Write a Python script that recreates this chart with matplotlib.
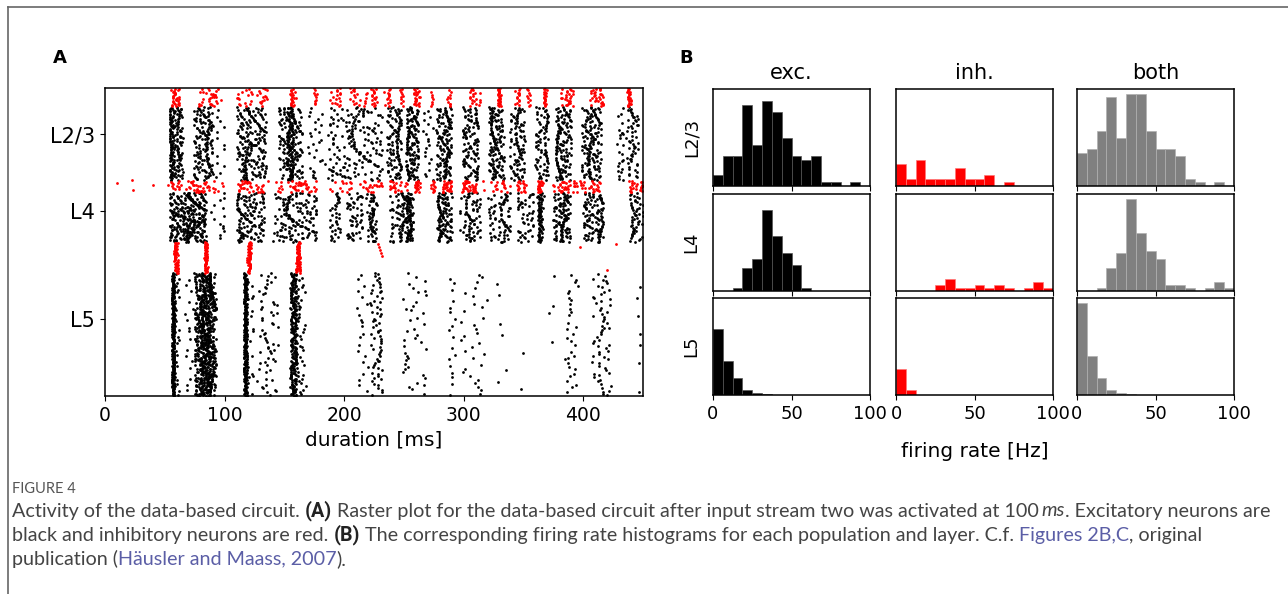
import numpy as np
import matplotlib
matplotlib.use("Agg")
import matplotlib.pyplot as plt
from matplotlib.lines import Line2D

# ---------------- raster (panel A) ----------------
# neuron index ranges, top to bottom: 560 neurons, 30/20/50 % per layer, 80/20 exc/inh
l23_inh_rng = (0, 34)
l23_exc_rng = (34, 168)
l4_inh_rng = (168, 190)
l4_exc_rng = (190, 280)
l5_inh_rng = (280, 336)
l5_exc_rng = (336, 560)
layer_ticks = [84, 224, 420]
layer_names = ["L2/3", "L4", "L5"]

# population bursts: (start ms, end ms, spikes per neuron)
l23_exc_bursts = [(54, 58, 0.7), (58, 65, 0.6), (74, 90, 1.1), (92, 100, 0.1),
                  (110, 135, 1.5), (145, 165, 1.1), (152, 157, 0.6), (170, 185, 0.2),
                  (186, 232, 1.3), (236, 248, 0.8), (252, 262, 1.0), (265, 276, 0.15),
                  (277, 290, 1.0), (299, 312, 0.8), (321, 334, 1.0), (338, 351, 0.7),
                  (360, 371, 0.6), (377, 390, 1.0), (399, 415, 1.1), (428, 446, 0.6)]
l23_inh_bursts = [(55, 63, 0.9), (78, 97, 0.9), (110, 136, 0.9), (155, 160, 0.6),
                  (174, 177, 0.3), (188, 197, 0.5), (205, 219, 0.6), (222, 228, 0.5),
                  (233, 239, 0.4), (247, 250, 0.3), (258, 264, 0.7), (272, 274, 0.2),
                  (286, 289, 0.3), (305, 314, 0.6), (328, 331, 0.8), (342, 347, 0.4),
                  (353, 356, 0.3), (367, 370, 0.6), (381, 392, 0.8), (406, 417, 0.9),
                  (437, 440, 0.7)]
l4_inh_bursts = [(54, 88, 2.0), (90, 100, 0.3), (110, 137, 1.5), (143, 178, 1.8),
                 (188, 232, 1.5), (238, 253, 1.0), (258, 264, 0.8), (272, 276, 0.5),
                 (282, 290, 1.2), (298, 312, 1.5), (315, 340, 0.8), (345, 352, 0.8),
                 (362, 366, 1.0), (375, 395, 1.5), (395, 415, 1.2), (438, 450, 1.0)]
l4_inh_early_t = [10, 22.6, 23.4, 40, 53]
l4_inh_early_n = [173, 168, 185, 176, 176]
l4_exc_bursts = [(54, 85, 3.3), (88, 100, 0.15), (110, 133, 1.4), (140, 177, 1.6),
                 (188, 197, 0.4), (202, 225, 0.9), (222, 228, 0.3), (238, 258, 1.1),
                 (252, 256, 0.6), (278, 290, 1.2), (297, 314, 0.8), (320, 339, 0.8),
                 (345, 367, 0.7), (362, 366, 0.6), (375, 389, 1.2), (400, 417, 1.2),
                 (439, 450, 0.6)]
l5_inh_bursts = [(58, 61, 1.0), (83, 86, 1.0), (119, 122, 1.0), (160, 163, 1.0)]
l5_inh_late_t = [228, 229, 230, 231, 232, 397, 420, 427]
l5_inh_late_n = [283, 289, 294, 300, 306, 290, 330, 284]
l5_exc_bursts = [(56, 58, 1.0), (58, 62, 0.15), (65, 75, 0.08), (75, 93, 2.0),
                 (80, 88, 1.0), (116, 119, 1.0), (119, 145, 0.35), (155, 160, 1.0),
                 (160, 168, 0.2), (208, 220, 0.1), (222, 232, 0.3), (249, 269, 0.18),
                 (287, 294, 0.08), (297, 320, 0.14), (325, 385, 0.06), (386, 396, 0.14),
                 (407, 423, 0.28), (445, 448, 0.03)]

# ---------------- histograms (panel B) ----------------
rate_edges = np.linspace(0, 100, 17)
l23_exc_counts = [3, 8, 8, 22, 11, 23, 20, 13, 8, 7, 8, 1, 1, 0, 1, 0]
l23_inh_counts = [6, 2, 7, 2, 2, 2, 5, 2, 2, 3, 0, 1, 0, 0, 0, 0]
l4_exc_counts = [0, 0, 1, 8, 11, 28, 19, 13, 9, 1, 0, 0, 0, 0, 0, 0]
l4_inh_counts = [0, 0, 0, 0, 2, 4, 1, 1, 2, 1, 2, 1, 0, 1, 3, 1]
l5_exc_counts = [119, 61, 30, 9, 3, 2, 0, 0, 0, 0, 0, 0, 0, 0, 0, 0]
l5_inh_counts = [47, 9, 0, 0, 0, 0, 0, 0, 0, 0, 0, 0, 0, 0, 0, 0]


def burst_spikes(rng, bursts, shift):
    # spread each burst's spikes over its neurons and time window
    ts, ns = [], []
    n0, n1 = rng
    for j, (t0, t1, per_neuron) in enumerate(bursts):
        n = int(round(per_neuron * (n1 - n0)))
        k = np.arange(1, n + 1)
        u = (shift * 0.31 + j * 0.137 + k * 0.6180339887) % 1.0
        v = (shift * 0.17 + j * 0.291 + k * k * 0.4142135624 + k * 0.7071067812) % 1.0
        ts.append(t0 + v * (t1 - t0))
        ns.append(np.floor(n0 + u * (n1 - n0)) + 0.5)
    return np.concatenate(ts), np.concatenate(ns)


fig = plt.figure(figsize=(12.88, 5.94), dpi=100)
plt.rcParams["font.family"] = ["DejaVu Sans"]

# frame lines of the figure page
fig.add_artist(Line2D([7.5 / 1288, 7.5 / 1288], [0, 1 - 7 / 594], color="#666666", lw=1.2))
fig.add_artist(Line2D([7.5 / 1288, 1], [1 - 7 / 594, 1 - 7 / 594], color="#666666", lw=1.2))

ax = fig.add_axes([105 / 1288, 1 - 396 / 594, 538 / 1288, 308 / 594])
for rng, bursts, col, sh in [(l23_exc_rng, l23_exc_bursts, "k", 1),
                             (l23_inh_rng, l23_inh_bursts, "red", 2),
                             (l4_exc_rng, l4_exc_bursts, "k", 3),
                             (l4_inh_rng, l4_inh_bursts, "red", 4),
                             (l5_exc_rng, l5_exc_bursts, "k", 5),
                             (l5_inh_rng, l5_inh_bursts, "red", 6)]:
    t, n = burst_spikes(rng, bursts, sh)
    ax.scatter(t, n, s=4, c=col, marker="o", linewidths=0)
ax.scatter(l4_inh_early_t, l4_inh_early_n, s=4, c="red", linewidths=0)
ax.scatter(l5_inh_late_t, l5_inh_late_n, s=4, c="red", linewidths=0)
ax.set_xlim(0, 450)
ax.set_ylim(560, 0)
ax.set_xticks([0, 100, 200, 300, 400])
ax.set_yticks(layer_ticks)
ax.set_yticklabels(layer_names, fontsize=15)
ax.tick_params(axis="x", labelsize=13.5)
ax.set_xlabel("duration [ms]", fontsize=14.5)
for s in ax.spines.values():
    s.set_linewidth(1.1)

fig.text(60 / 1288, 1 - 58 / 594, "A", fontsize=13, fontweight="bold", ha="center", va="center")
fig.text(686 / 1288, 1 - 58 / 594, "B", fontsize=13, fontweight="bold", ha="center", va="center")

# histogram grid
col_left = [713, 896, 1077]
row_top = [89, 194, 298]
hist_w, hist_h = 157, 97
rows = [(l23_exc_counts, l23_inh_counts), (l4_exc_counts, l4_inh_counts),
        (l5_exc_counts, l5_inh_counts)]
titles = ["exc.", "inh.", "both"]
for r, (exc, inh) in enumerate(rows):
    exc = np.array(exc)
    inh = np.array(inh)
    both = exc + inh
    for c, (vals, col, ec) in enumerate([(exc, "black", "#555555"),
                                         (inh, "red", "#ff7777"),
                                         (both, "grey", "#b0b0b0")]):
        hax = fig.add_axes([col_left[c] / 1288, 1 - (row_top[r] + hist_h) / 594,
                            hist_w / 1288, hist_h / 594])
        hax.hist(rate_edges[:-1], bins=rate_edges, weights=vals, color=col,
                 edgecolor=ec, linewidth=0.5)
        hax.set_xlim(0, 100)
        hax.set_ylim(0, both.max() * 1.05)
        hax.set_yticks([])
        hax.set_xticks([0, 50, 100])
        hax.tick_params(axis="x", labelsize=13)
        for s in hax.spines.values():
            s.set_linewidth(1.1)
        if r < 2:
            hax.tick_params(labelbottom=False)
        if r == 0:
            hax.set_title(titles[c], fontsize=15, pad=7)
        if c == 0:
            hax.set_ylabel(layer_names[r], fontsize=13, labelpad=9)
        if r == 2 and c == 1:
            hax.set_xlabel("firing rate [Hz]", fontsize=14.5, labelpad=14)

# ---------------- caption ----------------
fig.text(12 / 1288, 1 - 489 / 594, "FIGURE 4", fontsize=10.5, color="#555555",
         family="Lato", va="center")

cap_grey = "#444444"
cap_link = "#5b5ea6"
caption_lines = [
    [("Activity of the data-based circuit. ", "normal", "normal", cap_grey),
     ("(A)", "bold", "normal", "#222222"),
     (" Raster plot for the data-based circuit after input stream two was activated at 100\u2009", "normal", "normal", cap_grey),
     ("ms", "normal", "italic", cap_grey),
     (". Excitatory neurons are", "normal", "normal", cap_grey)],
    [("black and inhibitory neurons are red. ", "normal", "normal", cap_grey),
     ("(B)", "bold", "normal", "#222222"),
     (" The corresponding firing rate histograms for each population and layer. C.f. ", "normal", "normal", cap_grey),
     ("Figures 2B,C", "normal", "normal", cap_link),
     (", original", "normal", "normal", cap_grey)],
    [("publication (", "normal", "normal", cap_grey),
     ("H\u00e4usler and Maass, 2007", "normal", "normal", cap_link),
     (").", "normal", "normal", cap_grey)],
]
caption_y = [511, 535, 559]

renderer = fig.canvas.get_renderer()
for segs, y in zip(caption_lines, caption_y):
    x = 12.0
    for text, weight, style, color in segs:
        fam = ["Roboto", "DejaVu Sans"] if weight == "bold" else ["Lato", "DejaVu Sans"]
        t = fig.text(x / 1288, 1 - y / 594, text, fontsize=14.2, family=fam,
                     fontweight=weight, fontstyle=style, color=color, va="center")
        x += t.get_window_extent(renderer).width

fig.savefig("out.png", dpi=100)
